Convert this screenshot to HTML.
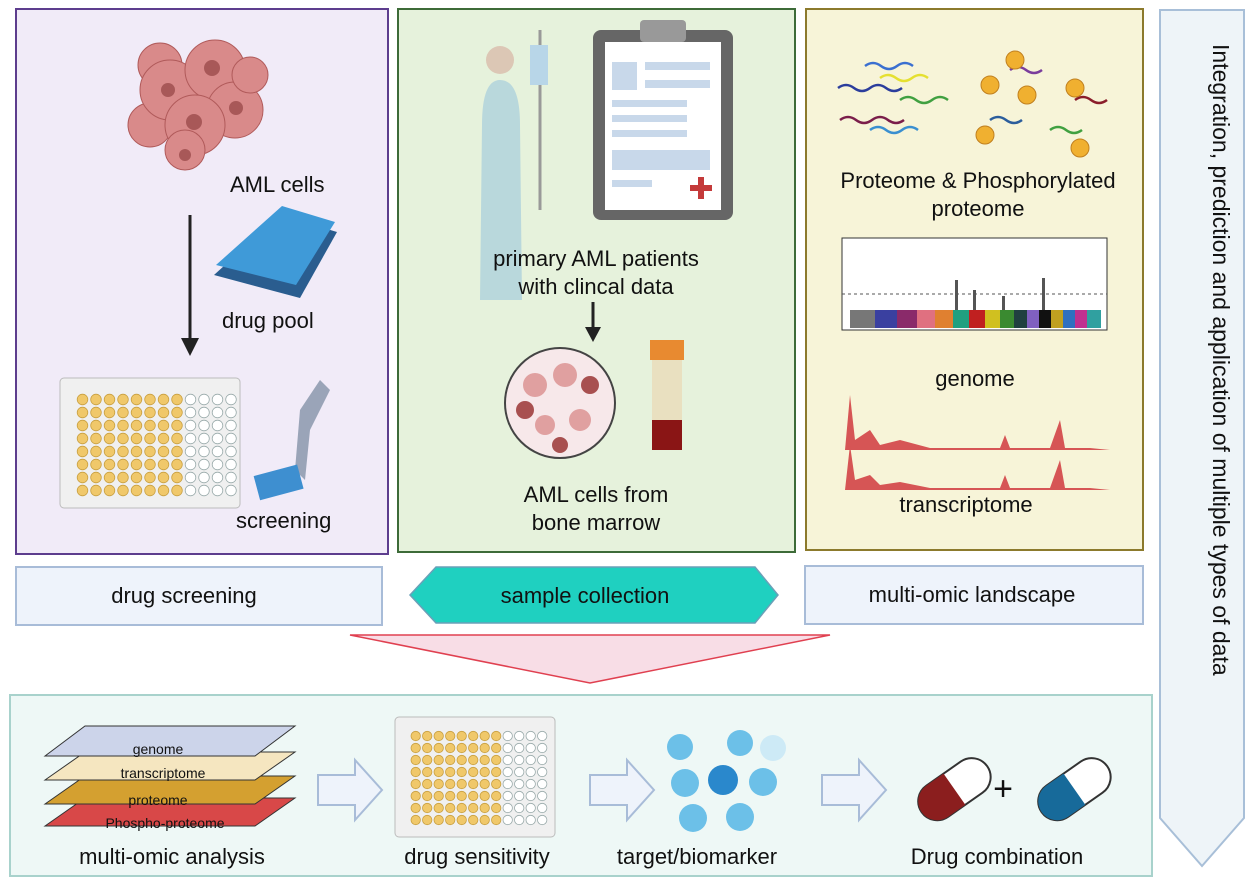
<!DOCTYPE html>
<html><head><meta charset="utf-8"><style>
html,body{margin:0;padding:0;background:#fff;}
svg{display:block;font-family:"Liberation Sans",Arial,sans-serif;}
</style></head><body>
<svg width="1253" height="886" viewBox="0 0 1253 886" xmlns="http://www.w3.org/2000/svg">
<defs>
<pattern id="yw" x="76" y="393" width="13.5" height="13" patternUnits="userSpaceOnUse"><circle cx="6.5" cy="6.5" r="5.3" fill="#f0c86a" stroke="#c9a040" stroke-width="0.8"/></pattern>
<pattern id="ww" x="76" y="393" width="13.5" height="13" patternUnits="userSpaceOnUse"><circle cx="6.5" cy="6.5" r="5.3" fill="#fff" stroke="#9aa" stroke-width="0.8"/></pattern>
<pattern id="yw2" x="410" y="730" width="11.5" height="12" patternUnits="userSpaceOnUse"><circle cx="5.7" cy="6" r="4.7" fill="#f0c86a" stroke="#c9a040" stroke-width="0.8"/></pattern>
<pattern id="ww2" x="410" y="730" width="11.5" height="12" patternUnits="userSpaceOnUse"><circle cx="5.7" cy="6" r="4.7" fill="#fff" stroke="#9aa" stroke-width="0.8"/></pattern>
</defs>
<rect width="1253" height="886" fill="#fff"/>
<rect x="16" y="9" width="372" height="545" fill="#f1ebf8" stroke="#5d3d8e" stroke-width="2"/>
<rect x="398" y="9" width="397" height="543" fill="#e6f2dc" stroke="#3d6b38" stroke-width="2"/>
<rect x="806" y="9" width="337" height="541" fill="#f7f4d8" stroke="#8c7a2c" stroke-width="2"/>
<path d="M1160 10 H1244 V818 L1202 866 L1160 818 Z" fill="#eef4f8" stroke="#a8bfd8" stroke-width="2"/>
<text transform="translate(1213,44) rotate(90)" font-size="23" fill="#111">Integration, prediction and application of multiple types of data</text>

<g fill="#d98a8a" stroke="#b05a5a">
<circle cx="150" cy="125" r="22"/><circle cx="160" cy="65" r="22"/>
<circle cx="170" cy="90" r="30"/><circle cx="215" cy="70" r="30"/><circle cx="235" cy="110" r="28"/>
<circle cx="195" cy="125" r="30"/><circle cx="185" cy="150" r="20"/><circle cx="250" cy="75" r="18"/>
</g>
<g fill="#a85858"><circle cx="212" cy="68" r="8"/><circle cx="194" cy="122" r="8"/><circle cx="168" cy="90" r="7"/><circle cx="236" cy="108" r="7"/><circle cx="185" cy="155" r="6"/></g>
<text x="230" y="192" font-size="22" fill="#111">AML cells</text>
<line x1="190" y1="215" x2="190" y2="340" stroke="#222" stroke-width="3"/>
<path d="M181 338 L199 338 L190 356 Z" fill="#222"/>
<path d="M214 275 L280 215 L337 232 L300 298 Z" fill="#2a5d8f"/>
<path d="M216 265 L282 206 L335 222 L296 285 Z" fill="#3f9ad8"/>
<text x="222" y="328" font-size="22" fill="#111">drug pool</text>
<rect x="60" y="378" width="180" height="130" rx="4" fill="#f0f0f0" stroke="#bbb"/>
<rect x="76" y="393" width="108" height="104" fill="url(#yw)"/>
<rect x="184" y="393" width="54" height="104" fill="url(#ww)"/>
<path d="M295 470 L300 410 L320 380 L330 390 L310 430 L305 480 Z" fill="#9aa4b8"/>
<rect x="256" y="470" width="45" height="25" fill="#3e8fd0" transform="rotate(-15 278 482)"/>
<text x="236" y="528" font-size="22" fill="#111">screening</text>

<path d="M482 125 Q482 80 500 80 Q520 80 520 125 L522 300 L480 300 Z" fill="#b9d8dc"/>
<circle cx="500" cy="60" r="14" fill="#dcc7b5"/>
<line x1="540" y1="30" x2="540" y2="210" stroke="#999" stroke-width="3"/>
<rect x="530" y="45" width="18" height="40" fill="#b8d6e8"/>
<rect x="593" y="30" width="140" height="190" rx="8" fill="#666"/>
<rect x="605" y="42" width="116" height="168" fill="#fff"/>
<rect x="640" y="20" width="46" height="22" rx="4" fill="#999"/>
<g fill="#c8d8ea"><rect x="612" y="62" width="25" height="28"/><rect x="645" y="62" width="65" height="8"/><rect x="645" y="80" width="65" height="8"/>
<rect x="612" y="100" width="75" height="7"/><rect x="612" y="115" width="75" height="7"/><rect x="612" y="130" width="75" height="7"/><rect x="612" y="150" width="98" height="20"/><rect x="612" y="180" width="40" height="7"/></g>
<path d="M690 185 h8 v-8 h6 v8 h8 v6 h-8 v8 h-6 v-8 h-8 Z" fill="#c43a3a"/>
<text x="596" y="266" font-size="22" fill="#111" text-anchor="middle">primary AML patients</text>
<text x="596" y="294" font-size="22" fill="#111" text-anchor="middle">with clincal data</text>
<line x1="593" y1="302" x2="593" y2="330" stroke="#222" stroke-width="3"/>
<path d="M585 327 L601 327 L593 342 Z" fill="#222"/>
<circle cx="560" cy="403" r="55" fill="#f7e8ea" stroke="#444" stroke-width="2"/>
<g fill="#e0a0a0"><circle cx="535" cy="385" r="12"/><circle cx="565" cy="375" r="12"/><circle cx="580" cy="420" r="11"/><circle cx="545" cy="425" r="10"/></g>
<g fill="#a85050"><circle cx="590" cy="385" r="9"/><circle cx="525" cy="410" r="9"/><circle cx="560" cy="445" r="8"/></g>
<rect x="652" y="360" width="30" height="80" fill="#e9e0c0"/><rect x="652" y="420" width="30" height="30" fill="#8a1515"/>
<rect x="650" y="340" width="34" height="20" fill="#e88a30"/>
<text x="596" y="502" font-size="22" fill="#111" text-anchor="middle">AML cells from</text>
<text x="596" y="530" font-size="22" fill="#111" text-anchor="middle">bone marrow</text>

<g fill="none" stroke-width="2.5">
<path d="M838 88 q8 -6 16 0 t16 0 t16 0 t16 0" stroke="#2b3d9c"/>
<path d="M865 66 q8 -6 16 0 t16 0 t16 0" stroke="#3a6fd0"/>
<path d="M880 78 q8 -6 16 0 t16 0 t16 0" stroke="#e5e030"/>
<path d="M900 100 q8 -6 16 0 t16 0 t16 0" stroke="#40a040"/>
<path d="M840 120 q8 -6 16 0 t16 0 t16 0 t16 0" stroke="#7a1d4a"/>
<path d="M870 130 q8 -6 16 0 t16 0 t16 0" stroke="#3a8fd0"/>
<path d="M1010 70 q8 -6 16 0 t16 0" stroke="#7a3d9c"/>
<path d="M990 120 q8 -6 16 0 t16 0" stroke="#2b5d9c"/>
<path d="M1050 130 q8 -6 16 0 t16 0" stroke="#40a040"/>
<path d="M1075 100 q8 -6 16 0 t16 0" stroke="#8a1d2a"/>
</g>
<g fill="#f0b030" stroke="#c08020"><circle cx="990" cy="85" r="9"/><circle cx="1027" cy="95" r="9"/><circle cx="1075" cy="88" r="9"/><circle cx="985" cy="135" r="9"/><circle cx="1080" cy="148" r="9"/><circle cx="1015" cy="60" r="9"/></g>
<text x="978" y="188" font-size="22" fill="#111" text-anchor="middle">Proteome &amp; Phosphorylated</text>
<text x="978" y="216" font-size="22" fill="#111" text-anchor="middle">proteome</text>
<rect x="842" y="238" width="265" height="92" fill="#fff" stroke="#333"/>
<line x1="842" y1="294" x2="1107" y2="294" stroke="#555" stroke-dasharray="3,3"/>
<g>
<rect x="850" y="310" width="25" height="18" fill="#777"/><rect x="875" y="310" width="22" height="18" fill="#3a40a0"/>
<rect x="897" y="310" width="20" height="18" fill="#8a2a6a"/><rect x="917" y="310" width="18" height="18" fill="#e07080"/>
<rect x="935" y="310" width="18" height="18" fill="#e08030"/><rect x="953" y="310" width="16" height="18" fill="#20a080"/>
<rect x="969" y="310" width="16" height="18" fill="#c02020"/><rect x="985" y="310" width="15" height="18" fill="#d0c020"/>
<rect x="1000" y="310" width="14" height="18" fill="#3a8a30"/><rect x="1014" y="310" width="13" height="18" fill="#204040"/>
<rect x="1027" y="310" width="12" height="18" fill="#8060c0"/><rect x="1039" y="310" width="12" height="18" fill="#111"/>
<rect x="1051" y="310" width="12" height="18" fill="#c0a020"/><rect x="1063" y="310" width="12" height="18" fill="#3070c0"/>
<rect x="1075" y="310" width="12" height="18" fill="#c03090"/><rect x="1087" y="310" width="14" height="18" fill="#30a0a0"/>
</g>
<g fill="#555"><rect x="955" y="280" width="3" height="30"/><rect x="973" y="290" width="3" height="20"/><rect x="1042" y="278" width="3" height="32"/><rect x="1002" y="296" width="3" height="14"/></g>
<text x="975" y="386" font-size="22" fill="#111" text-anchor="middle">genome</text>
<path d="M832 450 L845 450 L850 395 L855 440 L870 430 L880 445 L900 440 L930 448 L1000 448 L1005 435 L1010 448 L1050 448 L1060 420 L1065 448 L1090 448 L1110 450 Z" fill="#d65555"/>
<path d="M832 490 L845 490 L850 445 L855 480 L870 475 L880 485 L900 482 L930 488 L1000 488 L1005 475 L1010 488 L1050 488 L1060 460 L1065 488 L1090 488 L1110 490 Z" fill="#d65555"/>
<text x="966" y="512" font-size="22" fill="#111" text-anchor="middle">transcriptome</text>

<rect x="16" y="567" width="366" height="58" fill="#eef3fb" stroke="#a8bcd8" stroke-width="2"/>
<text x="184" y="603" font-size="22" fill="#111" text-anchor="middle">drug screening</text>
<path d="M410 595 L436 567 L755 567 L778 595 L755 623 L436 623 Z" fill="#1fd0c0" stroke="#6aa0b8" stroke-width="1.5"/>
<text x="585" y="603" font-size="22" fill="#111" text-anchor="middle">sample collection</text>
<rect x="805" y="566" width="338" height="58" fill="#eef3fb" stroke="#a8bcd8" stroke-width="2"/>
<text x="972" y="602" font-size="22" fill="#111" text-anchor="middle">multi-omic landscape</text>

<path d="M350 635 L830 635 L590 683 Z" fill="#f8dde6" stroke="#e04050" stroke-width="1.5"/>

<rect x="10" y="695" width="1142" height="181" fill="#eef8f6" stroke="#a8d2cc" stroke-width="2"/>
<path d="M45 826 L85 798 L295 798 L255 826 Z" fill="#d84848" stroke="#333"/>
<path d="M45 804 L85 776 L295 776 L255 804 Z" fill="#d4a030" stroke="#333"/>
<path d="M45 780 L85 752 L295 752 L255 780 Z" fill="#f5e6c0" stroke="#333"/>
<path d="M45 756 L85 726 L295 726 L255 756 Z" fill="#ccd4ea" stroke="#333"/>
<text x="158" y="754" font-size="14" fill="#111" text-anchor="middle">genome</text>
<text x="163" y="778" font-size="14" fill="#111" text-anchor="middle">transcriptome</text>
<text x="158" y="805" font-size="14" fill="#111" text-anchor="middle">proteome</text>
<text x="165" y="828" font-size="14" fill="#111" text-anchor="middle">Phospho-proteome</text>
<text x="172" y="864" font-size="22" fill="#111" text-anchor="middle">multi-omic analysis</text>
<path d="M318 775 H355 V760 L382 790 L355 820 V805 H318 Z" fill="#eef3fb" stroke="#a8bcd8" stroke-width="2"/>
<rect x="395" y="717" width="160" height="120" rx="4" fill="#f0f0f0" stroke="#bbb"/>
<rect x="410" y="730" width="92" height="96" fill="url(#yw2)"/>
<rect x="502" y="730" width="46" height="96" fill="url(#ww2)"/>
<text x="477" y="864" font-size="22" fill="#111" text-anchor="middle">drug sensitivity</text>
<path d="M590 775 H627 V760 L654 790 L627 820 V805 H590 Z" fill="#eef3fb" stroke="#a8bcd8" stroke-width="2"/>
<g fill="#6cc0e8"><circle cx="680" cy="747" r="13"/><circle cx="740" cy="743" r="13"/><circle cx="685" cy="783" r="14"/><circle cx="763" cy="782" r="14"/><circle cx="693" cy="818" r="14"/><circle cx="740" cy="817" r="14"/></g>
<circle cx="723" cy="780" r="15" fill="#2a88cc"/><circle cx="773" cy="748" r="13" fill="#cdeaf6"/>
<text x="697" y="864" font-size="22" fill="#111" text-anchor="middle">target/biomarker</text>
<path d="M822 775 H859 V760 L886 790 L859 820 V805 H822 Z" fill="#eef3fb" stroke="#a8bcd8" stroke-width="2"/>
<g transform="rotate(-35 955 790)"><rect x="915" y="770" width="80" height="38" rx="19" fill="#fff" stroke="#333" stroke-width="2"/><path d="M934 770 H955 V808 H934 A19 19 0 0 1 934 770 Z" fill="#8b1e1e"/></g>
<text x="1003" y="800" font-size="34" fill="#111" text-anchor="middle">+</text>
<g transform="rotate(-35 1075 790)"><rect x="1035" y="770" width="80" height="38" rx="19" fill="#fff" stroke="#333" stroke-width="2"/><path d="M1054 770 H1075 V808 H1054 A19 19 0 0 1 1054 770 Z" fill="#176a9a"/></g>
<text x="997" y="864" font-size="22" fill="#111" text-anchor="middle">Drug combination</text>
</svg>
</body></html>
